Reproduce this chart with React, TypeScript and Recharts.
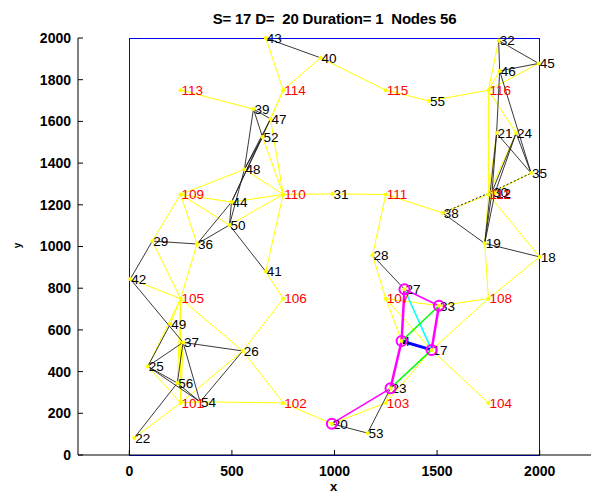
import React from "react";
import { ScatterChart, Scatter, XAxis, YAxis, ReferenceLine } from "recharts";

// mobile nodes (black labels)
const nodeIds = ["43", "40", "39", "47", "52", "48", "44", "50", "31", "29", "36", "41", "42", "49", "37", "26", "25", "56", "54", "22", "20", "53", "23", "4", "17", "33", "27", "28", "18", "19", "38", "30", "12", "35", "21", "24", "55", "46", "45", "32"];
const nodeX = [665, 932, 605, 688, 649, 561, 498, 488, 990, 112, 330, 665, 5, 200, 262, 553, 90, 234, 345, 24, 987, 1161, 1273, 1327, 1473, 1509, 1341, 1185, 2000, 1732, 1527, 1768, 1782, 1958, 1790, 1885, 1460, 1805, 1995, 1800];
const nodeY = [2000, 1905, 1659, 1612, 1525, 1370, 1213, 1103, 1252, 1026, 1012, 880, 844, 628, 540, 499, 425, 345, 255, 82, 150, 105, 320, 547, 504, 716, 795, 958, 950, 1015, 1161, 1263, 1257, 1352, 1544, 1544, 1698, 1842, 1878, 1988];

// fixed grid nodes (red labels)
const gridIds = ["101", "102", "103", "104", "105", "106", "107", "108", "109", "110", "111", "112", "113", "114", "115", "116"];
const gridX = [250, 750, 1250, 1750, 250, 750, 1250, 1750, 250, 750, 1250, 1750, 250, 750, 1250, 1750];
const gridY = [250, 250, 250, 250, 750, 750, 750, 750, 1250, 1250, 1250, 1250, 1750, 1750, 1750, 1750];

const yellowEdges = [
  ["43", "114"], ["40", "114"], ["40", "115"], ["113", "39"], ["114", "47"], ["114", "52"],
  ["47", "110"], ["52", "110"], ["48", "109"], ["48", "110"], ["109", "44"], ["44", "110"],
  ["109", "50"], ["50", "110"], ["109", "29"], ["109", "36"], ["110", "31"], ["110", "41"],
  ["41", "106"], ["106", "26"], ["105", "29"], ["105", "36"], ["105", "42"], ["105", "25"],
  ["105", "56"], ["105", "101"], ["105", "26"], ["105", "49"], ["37", "101"], ["25", "101"],
  ["26", "101"], ["26", "102"], ["101", "22"], ["101", "54"], ["54", "102"], ["102", "20"],
  ["20", "103"], ["103", "23"], ["103", "17"], ["107", "28"], ["28", "111"], ["107", "4"],
  ["107", "17"], ["107", "33"], ["33", "108"], ["17", "108"], ["17", "104"], ["108", "18"],
  ["108", "19"], ["31", "111"], ["111", "38"], ["38", "112"], ["112", "35"], ["115", "55"],
  ["55", "116"], ["116", "32"], ["116", "45"], ["116", "46"], ["116", "24"], ["116", "112"],
  ["21", "112"], ["24", "112"], ["112", "18"], ["112", "19"],
];
const blackEdges = [
  ["43", "40"], ["39", "47"], ["39", "52"], ["39", "48"], ["47", "48"], ["52", "48"],
  ["47", "44"], ["52", "44"], ["48", "50"], ["44", "50"], ["44", "36"], ["50", "36"],
  ["29", "36"], ["50", "41"], ["29", "42"], ["42", "37"], ["49", "25"], ["37", "25"],
  ["37", "26"], ["37", "54"], ["37", "56"], ["25", "54"], ["25", "56"], ["26", "54"],
  ["56", "22"], ["56", "54"], ["20", "53"], ["53", "23"], ["28", "27"], ["38", "19"],
  ["19", "18"], ["32", "46"], ["32", "45"], ["46", "45"], ["46", "21"], ["46", "35"],
  ["21", "35"], ["24", "35"], ["21", "30"], ["24", "30"], ["24", "12"], ["21", "19"],
  ["30", "19"], ["12", "19"],
];
const dottedEdges = [["38", "30"], ["30", "35"]];

// route from S=17 to D=20
const pathEdges = [
  ["27", "17", "#00ffff", 1.5],
  ["4", "33", "#00ff00", 1.5],
  ["23", "17", "#00ff00", 1.5],
  ["20", "23", "#ff00ff", 1.5],
  ["23", "4", "#ff00ff", 2.5],
  ["4", "27", "#ff00ff", 2.5],
  ["27", "33", "#ff00ff", 1.5],
  ["33", "17", "#ff00ff", 2.5],
  ["4", "17", "#0000ff", 3],
];
const pathNodes = ["20", "23", "4", "27", "33", "17"];

// deployment field boundary
const fieldMin = 0;
const fieldMax = 2000;

const xTicks = [0, 500, 1000, 1500, 2000];
const yTicks = [0, 200, 400, 600, 800, 1000, 1200, 1400, 1600, 1800, 2000];

const points = [
  ...nodeIds.map((id, i) => ({ id, x: nodeX[i], y: nodeY[i], red: false })),
  ...gridIds.map((id, i) => ({ id, x: gridX[i], y: gridY[i], red: true })),
];
const pos: Record<string, { x: number; y: number }> = {};
points.forEach((p) => (pos[p.id] = { x: p.x, y: p.y }));
const pathPoints = pathNodes.map((id) => ({ id, ...pos[id] }));

const FONT = "'Liberation Sans', Arial, sans-serif";

const NodeShape = (props: any) => {
  const { cx, cy, payload } = props;
  return (
    <g>
      <text x={cx + 1} y={cy} dy="0.36em" fontSize={13.5} fontFamily={FONT} fill={payload.red ? "#ff0000" : "#000"}>
        {payload.id}
      </text>
      <circle cx={cx} cy={cy} r={2} fill="#ffff00" />
    </g>
  );
};

const RingShape = (props: any) => (
  <circle cx={props.cx} cy={props.cy} r={5} fill="none" stroke="#ff00ff" strokeWidth={2} />
);

const seg = (a: string, b: string) => [
  { x: pos[a].x, y: pos[a].y },
  { x: pos[b].x, y: pos[b].y },
];

const tickStyle = { fontSize: 14, fontWeight: "bold", fill: "#000", fontFamily: FONT };

export default function App() {
  return (
    <div style={{ position: "absolute", left: 0, top: 0, width: 596, height: 495, background: "#fff" }}>
      <div style={{ position: "absolute", left: 78, top: 10, width: 513, textAlign: "center", fontFamily: FONT, fontWeight: "bold", fontSize: 15, letterSpacing: -0.2 }}>
        S= 17 D=&nbsp; 20 Duration= 1&nbsp; Nodes 56
      </div>
      <ScatterChart width={596} height={495} margin={{ top: 38, right: 5, bottom: 0, left: 0 }}>
        <XAxis type="number" dataKey="x" domain={[-250, 2250]} ticks={xTicks} height={40} tickSize={-5} tickMargin={16} stroke="#000" tick={tickStyle} />
        <XAxis xAxisId="top" orientation="top" type="number" dataKey="x" domain={[-250, 2250]} ticks={xTicks} height={0} tickSize={-5} tick={false} stroke="#000" />
        <YAxis type="number" dataKey="y" domain={[0, 2000]} ticks={yTicks} width={78} tickSize={-5} tickMargin={12} stroke="#000" tick={tickStyle} />
        <YAxis yAxisId="right" orientation="right" type="number" dataKey="y" domain={[0, 2000]} ticks={yTicks} width={0} tickSize={-5} tick={false} stroke="#000" />
        {yellowEdges.map(([a, b], i) => (
          <ReferenceLine key={"y" + i} segment={seg(a, b)} stroke="#ffff00" strokeWidth={1} ifOverflow="visible" />
        ))}
        {blackEdges.map(([a, b], i) => (
          <ReferenceLine key={"k" + i} segment={seg(a, b)} stroke="#222" strokeWidth={0.9} ifOverflow="visible" />
        ))}
        {dottedEdges.map(([a, b], i) => (
          <ReferenceLine key={"d" + i} segment={seg(a, b)} stroke="#222" strokeWidth={1} strokeDasharray="2 2" ifOverflow="visible" />
        ))}
        {pathEdges.map(([a, b, c, w], i) => (
          <ReferenceLine key={"p" + i} segment={seg(a as string, b as string)} stroke={c as string} strokeWidth={w as number} ifOverflow="visible" />
        ))}
        <ReferenceLine segment={[{ x: fieldMin, y: fieldMin }, { x: fieldMin, y: fieldMax }]} stroke="#0000ff" strokeWidth={1} shapeRendering="crispEdges" ifOverflow="visible" />
        <ReferenceLine segment={[{ x: fieldMax, y: fieldMin }, { x: fieldMax, y: fieldMax }]} stroke="#0000ff" strokeWidth={1} shapeRendering="crispEdges" ifOverflow="visible" />
        <ReferenceLine segment={[{ x: fieldMin, y: fieldMax }, { x: fieldMax, y: fieldMax }]} stroke="#0000ff" strokeWidth={1} shapeRendering="crispEdges" ifOverflow="visible" />
        <ReferenceLine segment={[{ x: fieldMin, y: fieldMin }, { x: fieldMax, y: fieldMin }]} stroke="#0000ff" strokeWidth={1} shapeRendering="crispEdges" ifOverflow="visible" />
        <Scatter data={points} shape={<NodeShape />} isAnimationActive={false} />
        <Scatter data={pathPoints} shape={<RingShape />} isAnimationActive={false} />
      </ScatterChart>
      <div style={{ position: "absolute", left: 330, top: 479, fontFamily: FONT, fontWeight: "bold", fontSize: 13 }}>x</div>
      <div style={{ position: "absolute", left: 15, top: 240, fontFamily: FONT, fontWeight: "bold", fontSize: 10, transform: "rotate(-90deg)" }}>y</div>
    </div>
  );
}
